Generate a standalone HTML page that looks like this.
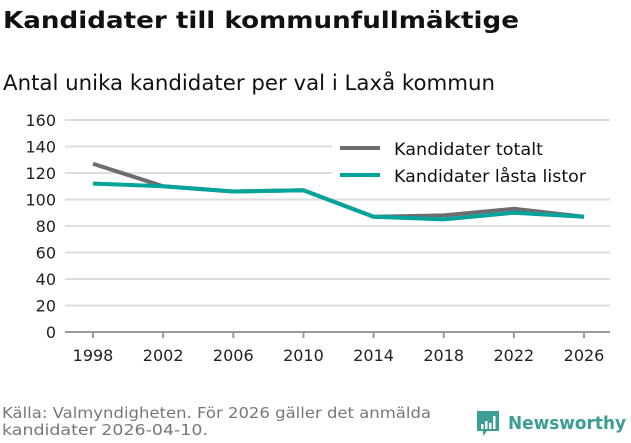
<!DOCTYPE html>
<html><head><meta charset="utf-8"><style>
body{margin:0;background:#fff;width:631px;height:439px;overflow:hidden;font-family:"DejaVu Sans","Liberation Sans",sans-serif}
</style></head><body>
<svg width="631" height="439" xmlns="http://www.w3.org/2000/svg">
<text x="3" y="28" font-size="23" font-weight="bold" fill="#111" textLength="516" lengthAdjust="spacingAndGlyphs">Kandidater till kommunfullmäktige</text>
<text x="3" y="90" font-size="21" fill="#111" textLength="492" lengthAdjust="spacingAndGlyphs">Antal unika kandidater per val i Laxå kommun</text>
<g id="grid"></g><g id="lines"></g>
<g>
<rect x="332" y="134" width="290" height="56" fill="#fff"/>
<line x1="340" y1="148" x2="380" y2="148" stroke="#6d6c71" stroke-width="4"/>
<text x="394" y="155" font-size="17" fill="#111" textLength="149" lengthAdjust="spacingAndGlyphs">Kandidater totalt</text>
<line x1="340" y1="175" x2="380" y2="175" stroke="#00a49a" stroke-width="4"/>
<text x="394" y="182" font-size="17" fill="#111" textLength="192" lengthAdjust="spacingAndGlyphs">Kandidater låsta listor</text>
</g>
<text x="2" y="418" font-size="15" fill="#777" textLength="429" lengthAdjust="spacingAndGlyphs">Källa: Valmyndigheten. För 2026 gäller det anmälda</text>
<text x="2" y="435" font-size="15" fill="#777" textLength="206" lengthAdjust="spacingAndGlyphs">kandidater 2026-04-10.</text>
<g>
<path d="M477 411h22v20h-12l-4 5v-5h-6z" fill="#3a9e94"/>
<rect x="481" y="424" width="2.5" height="5" fill="#fff"/><rect x="485" y="421" width="2.5" height="8" fill="#fff"/><rect x="489" y="423" width="2.5" height="6" fill="#fff"/><rect x="493" y="416" width="2.5" height="13" fill="#fff"/>
<text x="508" y="429" font-size="18" font-weight="bold" fill="#3a9e94" textLength="118" lengthAdjust="spacingAndGlyphs">Newsworthy</text>
</g>
</svg>
<script>
const years=[1998,2002,2006,2010,2014,2018,2022,2026];
const totalt=[127,110,106,107,87,88,93,87];
const lasta=[112,110,106,107,87,85,90,87];
const yTicks=[0,20,40,60,80,100,120,140,160];
const NS="http://www.w3.org/2000/svg";
const x=y=>93+(y-1998)*(584-93)/28;
const yv=v=>332-v*(332-120)/160;
const grid=document.getElementById('grid'),lines=document.getElementById('lines');
yTicks.forEach(t=>{
 const l=document.createElementNS(NS,'line');
 l.setAttribute('x1',65);l.setAttribute('x2',610);l.setAttribute('y1',yv(t));l.setAttribute('y2',yv(t));
 l.setAttribute('stroke',t===0?'#999':'#ddd');l.setAttribute('stroke-width',2);
 
 
 grid.appendChild(l);
 const tx=document.createElementNS(NS,'text');
 tx.setAttribute('x',56);tx.setAttribute('y',yv(t)+6);tx.setAttribute('text-anchor','end');tx.setAttribute('font-size',16);tx.setAttribute('fill','#222');
 tx.textContent=t;
 
 
 grid.appendChild(tx);
});
years.forEach(yr=>{
 const l=document.createElementNS(NS,'line');
 l.setAttribute('x1',x(yr));l.setAttribute('x2',x(yr));l.setAttribute('y1',332);l.setAttribute('y2',338);l.setAttribute('stroke','#999');l.setAttribute('stroke-width',2);
 
 
 grid.appendChild(l);
 const tx=document.createElementNS(NS,'text');
 tx.setAttribute('x',x(yr));tx.setAttribute('y',361);tx.setAttribute('text-anchor','middle');tx.setAttribute('font-size',16);tx.setAttribute('fill','#222');
 tx.textContent=yr;
 
 
 grid.appendChild(tx);
});
function draw(vals,color,name){
 const p=document.createElementNS(NS,'polyline');
 p.setAttribute('points',vals.map((v,i)=>x(years[i])+','+yv(v)).join(' '));
 p.setAttribute('fill','none');p.setAttribute('stroke',color);p.setAttribute('stroke-width',4);p.setAttribute('stroke-linejoin','round');
 
 
 lines.appendChild(p);
}
draw(totalt,'#6d6c71','line-totalt');
draw(lasta,'#00a49a','line-lasta-listor');
</script>
</body></html>
